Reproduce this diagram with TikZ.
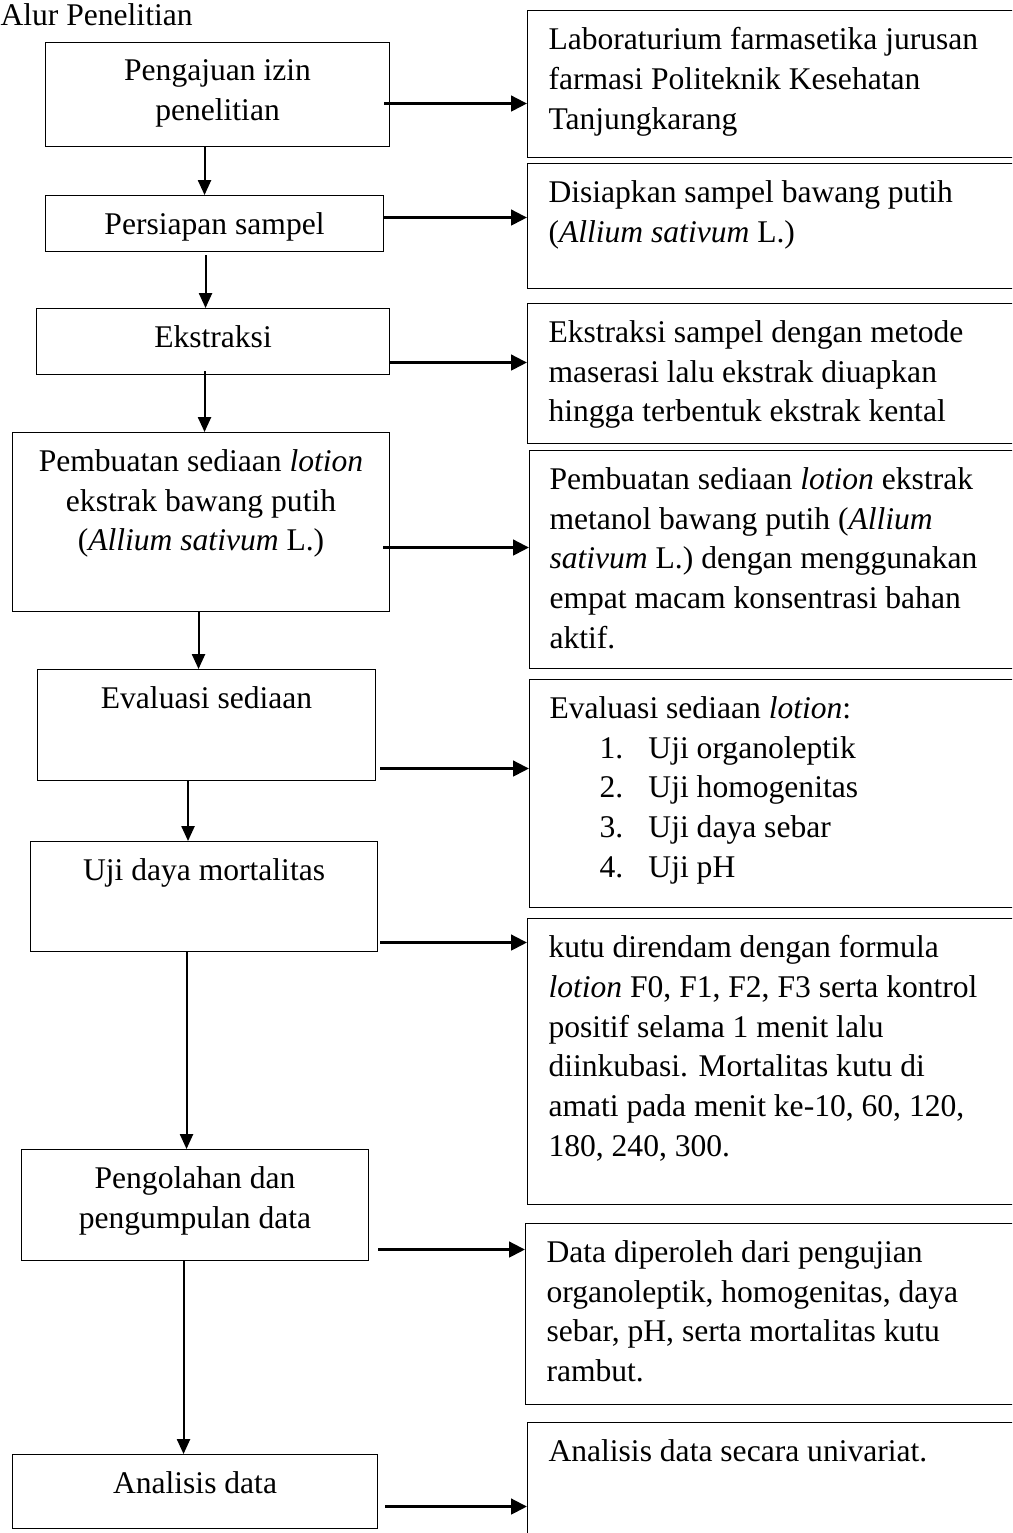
\documentclass[tikz,border=0pt]{standalone}
\usepackage{fontspec}
\setmainfont{Liberation Serif}
\usetikzlibrary{arrows.meta}

\tikzset{
  kotak/.style 2 args={draw, line width=0.4pt, inner sep=0pt, anchor=north west,
    minimum width=#1*0.38pt, minimum height=#2*0.38pt},
  teks/.style={font=\fontsize{12}{15.1}\selectfont, inner sep=0pt},
  kanan/.style={line width=1.2pt, -{Triangle[length=6pt,width=5.8pt]}},
  turun/.style={line width=0.75pt, -{Triangle[length=5.7pt,width=5pt]}}
}

\begin{document}
\begin{tikzpicture}[x=0.38pt, y=-0.38pt]
\path[use as bounding box, clip] (0,0) rectangle (1012,1533);

\node[teks, anchor=base west] (judul) at (0,26) {Alur Penelitian};

% langkah (kiri)
\node[kotak={344}{104}] (izin)       at (45,42)   {};
\node[kotak={338}{56}]  (sampel)     at (45,195)  {};
\node[kotak={353}{66}]  (ekstraksi)  at (36,308)  {};
\node[kotak={377}{179}] (lotion)     at (12,432)  {};
\node[kotak={338}{111}] (evaluasi)   at (37,669)  {};
\node[kotak={347}{110}] (mortalitas) at (30,841)  {};
\node[kotak={347}{111}] (olah)       at (21,1149) {};
\node[kotak={365}{74}]  (analisis)   at (12,1454) {};

\node[teks, anchor=north, align=center] (izin-t) at ([shift={(0,17)}]izin.north) {Pengajuan izin\\penelitian};
\node[teks, anchor=north, align=center] (sampel-t) at ([shift={(0,17)}]sampel.north) {Persiapan sampel};
\node[teks, anchor=north, align=center] (ekstraksi-t) at ([shift={(0,17)}]ekstraksi.north) {Ekstraksi};
\node[teks, anchor=north, align=center] (lotion-t) at ([shift={(0,17)}]lotion.north) {Pembuatan sediaan \textit{lotion}\\ekstrak bawang putih\\(\textit{Allium sativum} L.)};
\node[teks, anchor=north, align=center] (evaluasi-t) at ([shift={(0,17)}]evaluasi.north) {Evaluasi sediaan};
\node[teks, anchor=north, align=center] (mortalitas-t) at ([shift={(0,17)}]mortalitas.north) {Uji daya mortalitas};
\node[teks, anchor=north, align=center] (olah-t) at ([shift={(0,17)}]olah.north) {Pengolahan dan\\pengumpulan data};
\node[teks, anchor=north, align=center] (analisis-t) at ([shift={(0,17)}]analisis.north) {Analisis data};

% keterangan (kanan)
\node[kotak={503}{147}] (lab)       at (527,10)   {};
\node[kotak={503}{125}] (siap)      at (527,163)  {};
\node[kotak={503}{140}] (maserasi)  at (527,303)  {};
\node[kotak={501}{218}] (formula)   at (529,450)  {};
\node[kotak={501}{228}] (uji)       at (529,679)  {};
\node[kotak={503}{286}] (rendam)    at (527,918)  {};
\node[kotak={505}{181}] (data)      at (525,1223) {};
\node[kotak={503}{130}] (univariat) at (527,1422) {};

\node[teks, anchor=north west, align=left] (lab-t) at ([shift={(21,17)}]lab.north west)
  {Laboraturium farmasetika jurusan\\farmasi Politeknik Kesehatan\\Tanjungkarang};
\node[teks, anchor=north west, align=left] (siap-t) at ([shift={(21,17)}]siap.north west)
  {Disiapkan sampel bawang putih\\(\textit{Allium sativum} L.)};
\node[teks, anchor=north west, align=left] (maserasi-t) at ([shift={(21,17)}]maserasi.north west)
  {Ekstraksi sampel dengan metode\\maserasi lalu ekstrak diuapkan\\hingga terbentuk ekstrak kental};
\node[teks, anchor=north west, align=left] (formula-t) at ([shift={(20,17)}]formula.north west)
  {Pembuatan sediaan \textit{lotion} ekstrak\\metanol bawang putih (\textit{Allium}\\\textit{sativum} L.) dengan menggunakan\\empat macam konsentrasi bahan\\aktif.};
\node[teks, anchor=north west, align=left] (uji-t) at ([shift={(20,17)}]uji.north west)
  {Evaluasi sediaan \textit{lotion}:\\
   \hspace*{19pt}\makebox[18.6pt][l]{1.}Uji organoleptik\\
   \hspace*{19pt}\makebox[18.6pt][l]{2.}Uji homogenitas\\
   \hspace*{19pt}\makebox[18.6pt][l]{3.}Uji daya sebar\\
   \hspace*{19pt}\makebox[18.6pt][l]{4.}Uji pH};
\node[teks, anchor=north west, align=left] (rendam-t) at ([shift={(21,17)}]rendam.north west)
  {kutu direndam dengan formula\\\textit{lotion} F0, F1, F2, F3 serta kontrol\\positif selama 1 menit lalu\\diinkubasi. Mortalitas kutu di\\amati pada menit ke-10, 60, 120,\\180, 240, 300.};
\node[teks, anchor=north west, align=left] (data-t) at ([shift={(21,17)}]data.north west)
  {Data diperoleh dari pengujian\\organoleptik, homogenitas, daya\\sebar, pH, serta mortalitas kutu\\rambut.};
\node[teks, anchor=north west, align=left] (univariat-t) at ([shift={(21,17)}]univariat.north west)
  {Analisis data secara univariat.};

% panah turun
\coordinate (d1) at ([shift={(-13,0)}]izin.south);
\coordinate (d2) at ([shift={(-9,3)}]sampel.south);
\coordinate (d3) at ([shift={(-8.5,-4)}]ekstraksi.south);
\coordinate (d4) at ([shift={(-2.5,0)}]lotion.south);
\coordinate (d5) at ([shift={(-18.5,0)}]evaluasi.south);
\coordinate (d6) at ([shift={(-17.5,0)}]mortalitas.south);
\coordinate (d7) at ([shift={(-11.5,0)}]olah.south);
\draw[turun] (d1) -- (d1 |- sampel.north);
\draw[turun] (d2) -- (d2 |- ekstraksi.north);
\draw[turun] (d3) -- (d3 |- lotion.north);
\draw[turun] (d4) -- (d4 |- evaluasi.north);
\draw[turun] (d5) -- (d5 |- mortalitas.north);
\draw[turun] (d6) -- (d6 |- olah.north);
\draw[turun] (d7) -- (d7 |- analisis.north);

% panah ke kanan
\coordinate (k1) at ([shift={(-6,9)}]izin.east);
\coordinate (k2) at ([shift={(0,-6)}]sampel.east);
\coordinate (k3) at ([shift={(0,21)}]ekstraksi.east);
\coordinate (k4) at ([shift={(-7,25.5)}]lotion.east);
\coordinate (k5) at ([shift={(4,43.5)}]evaluasi.east);
\coordinate (k6) at ([shift={(2,46)}]mortalitas.east);
\coordinate (k7) at ([shift={(9,44.5)}]olah.east);
\coordinate (k8) at ([shift={(7,15)}]analisis.east);
\draw[kanan] (k1) -- (k1 -| lab.west);
\draw[kanan] (k2) -- (k2 -| siap.west);
\draw[kanan] (k3) -- (k3 -| maserasi.west);
\draw[kanan] (k4) -- (k4 -| formula.west);
\draw[kanan] (k5) -- (k5 -| uji.west);
\draw[kanan] (k6) -- (k6 -| rendam.west);
\draw[kanan] (k7) -- (k7 -| data.west);
\draw[kanan] (k8) -- (k8 -| univariat.west);
\end{tikzpicture}
\end{document}
